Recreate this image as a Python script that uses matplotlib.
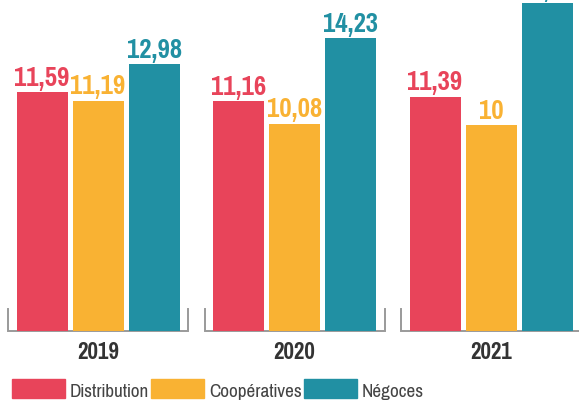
import matplotlib
matplotlib.use("Agg")
import matplotlib.pyplot as plt
from matplotlib.patches import Rectangle
from matplotlib import font_manager

years = ["2019", "2020", "2021"]
series = ["Distribution", "Coopératives", "Négoces"]
distribution = [11.59, 11.16, 11.39]
cooperatives = [11.19, 10.08, 10.00]
negoces = [12.98, 14.23, 15.94]
labels_dist = ["11,59", "11,16", "11,39"]
labels_coop = ["11,19", "10,08", "10"]
labels_neg = ["12,98", "14,23", "15,94"]
colors = ["#E8445A", "#F9B233", "#2190A3"]


def pick_font():
    fl = font_manager.fontManager.ttflist
    cands = ["Liberation Sans Narrow", "Pragati Narrow", "PT Sans Narrow",
             "Archivo Narrow", "Roboto Condensed", "Encode Sans Condensed",
             "Open Sans Condensed"]
    for c in cands:
        faces = [f for f in fl if f.name == c and "[" not in f.fname]
        if any(f.weight in (700, "bold") for f in faces) and faces:
            return c
    return "DejaVu Sans"


FONT = pick_font()

W, H = 579, 400
fig = plt.figure(figsize=(W / 100, H / 100), dpi=100)
ax = fig.add_axes([0, 0, 1, 1])
ppu = 196.5  # pixels per group
ypu = 20.58  # pixels per value unit
x0 = 98.0
base = 331.0
ax.set_xlim(-x0 / ppu, (W - x0) / ppu)
ax.set_ylim(-(H - base) / ypu, base / ypu)
ax.axis("off")

bw = 51 / ppu
off = 56 / ppu
data = [distribution, cooperatives, negoces]
labs = [labels_dist, labels_coop, labels_neg]
for k in range(3):
    xs = [i + (k - 1) * off for i in range(3)]
    ax.bar(xs, data[k], width=bw, color=colors[k], zorder=3)
    for x, v, t in zip(xs, data[k], labs[k]):
        ax.annotate(t, (x, v), xytext=(0, 4.5), textcoords="offset points",
                    ha="center", va="baseline", fontsize=21, fontweight="bold",
                    color=colors[k], family=FONT, zorder=4, annotation_clip=False)

# brackets
half = 90 / ppu
tick_h = 22 / ypu
for i in range(3):
    ax.plot([i - half, i - half, i + half, i + half], [tick_h, 0, 0, tick_h],
            color="#9a9a9a", lw=1.4, zorder=2, solid_joinstyle="miter")
    ax.text(i, -(359 - base) / ypu, years[i], ha="center", va="baseline",
            fontsize=18, fontweight="bold", color="#333333", family=FONT)

# legend
leg_x = [12, 151, 304]
for k in range(3):
    fig.patches.append(Rectangle((leg_x[k] / W, 1 - 398 / H), 53 / W, 19 / H,
                                 transform=fig.transFigure, color=colors[k]))
    fig.text((leg_x[k] + 58) / W, 1 - 397 / H, series[k], ha="left", va="baseline",
             fontsize=15, color="#444444", family=FONT)

fig.savefig("out.png", dpi=100)
